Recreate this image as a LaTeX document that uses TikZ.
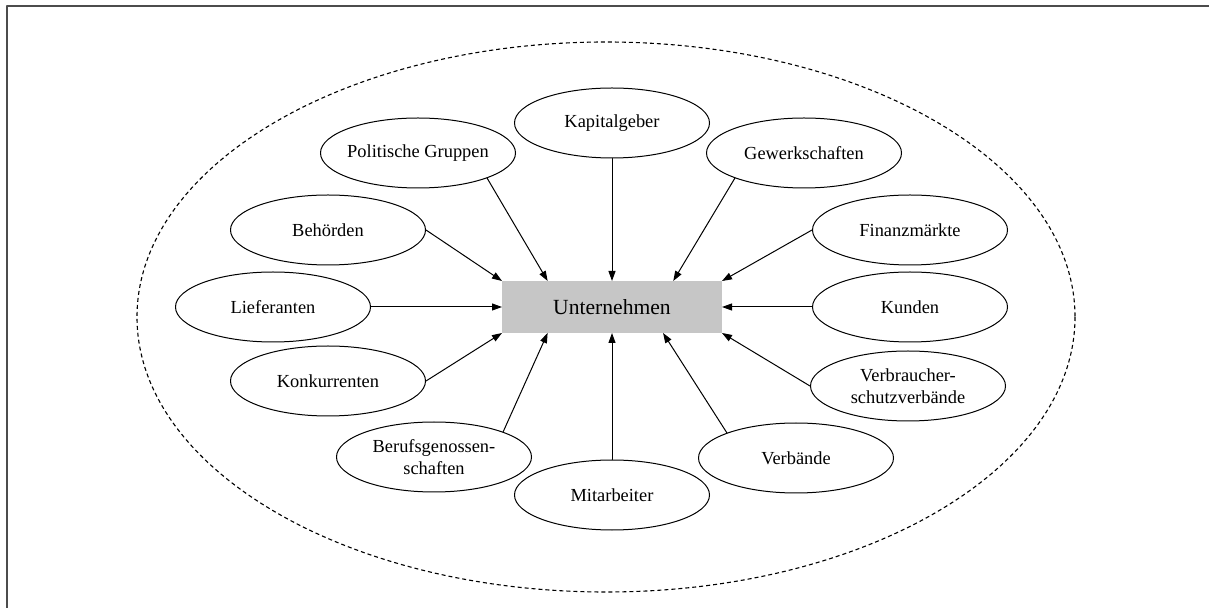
\documentclass[tikz,border=0pt]{standalone}
\usepackage{fontspec}
\setmainfont{Liberation Serif}
\usetikzlibrary{shapes.geometric,arrows.meta}
\begin{document}
\begin{tikzpicture}[x=0.5pt,y=-0.5pt,line cap=round,line join=round,
  group/.style={draw,ellipse,line width=0.5pt,minimum width=97.5pt,minimum height=35pt,
    inner sep=0pt,align=center,font=\fontsize{9.2}{11}\selectfont},
  infl/.style={line width=0.5pt,-{Triangle[length=5pt,width=3.5pt]}}]
  \useasboundingbox (0,0) rectangle (1209,608);
  \draw[line width=1pt,black!70] (7,608) -- (7,6) -- (1209,6);
  \draw[line width=0.55pt,line cap=butt,dash pattern=on 2pt off 1.5pt] (606,317) ellipse [x radius=469,y radius=275];
  \node[fill=gray!45,minimum width=110pt,minimum height=26pt,outer sep=0pt,
    font=\fontsize{10.8}{13}\selectfont] (unt) at (612,307) {Unternehmen};
  \node[group] (kap) at (612,123) {Kapitalgeber};
  \node[group,inner xsep=-1.5pt] (pol) at (418,153) {Politische Gruppen};
  \node[group] (gew) at (804,153) {Gewerkschaften};
  \node[group] (beh) at (328,230) {Behörden};
  \node[group] (fin) at (910,230) {Finanzmärkte};
  \node[group] (lie) at (273,307) {Lieferanten};
  \node[group] (kun) at (910,307) {Kunden};
  \node[group] (kon) at (328,381) {Konkurrenten};
  \node[group] (vsv) at (908,386) {Verbraucher-\\schutzverbände};
  \node[group] (ber) at (434,457) {Berufsgenossen-\\schaften};
  \node[group] (ver) at (796,458) {Verbände};
  \node[group] (mit) at (612,495) {Mitarbeiter};
  \foreach \s/\t in {kap.south/unt.north, pol.-20/unt.158, gew.200/unt.23,
      beh.east/unt.north west, fin.west/unt.north east, lie.east/unt.west,
      kun.west/unt.east, kon.east/unt.south west, vsv.west/unt.south east,
      ber.20/unt.202, ver.160/unt.-27, mit.north/unt.south} {
    \draw[infl] (\s) -- (\t);
  }
\end{tikzpicture}
\end{document}
